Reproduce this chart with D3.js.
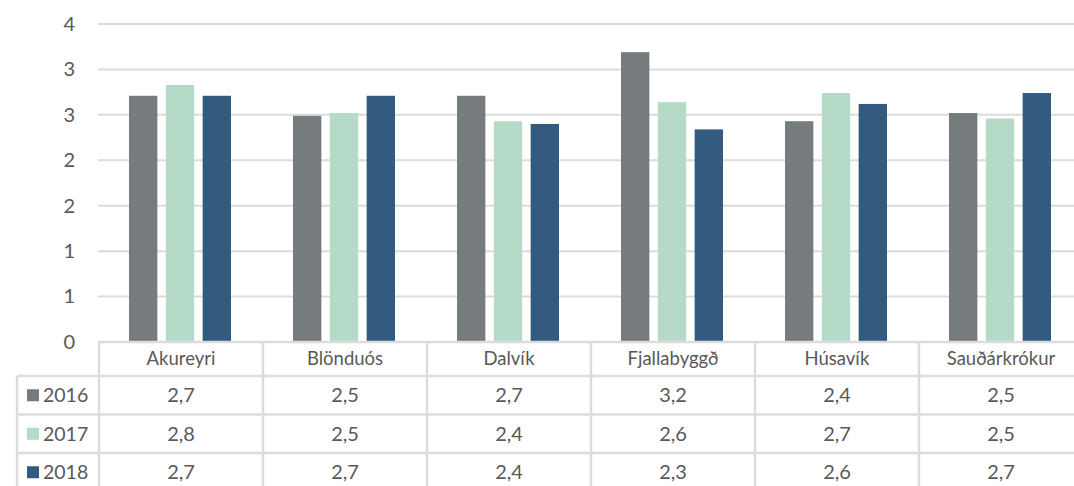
<!DOCTYPE html>
<html>
<head>
<meta charset="utf-8">
<script src="https://cdn.jsdelivr.net/npm/d3@7"></script>
<style>
  html, body { margin: 0; padding: 0; background: #fff; }
  svg { display: block; }
  text { font-family: Lato, "Open Sans", sans-serif; fill: #595959; }
</style>
</head>
<body>
<svg id="chart" width="1074" height="486"></svg>
<script>
// ---- data ----
const categories = ["Akureyri", "Blönduós", "Dalvík", "Fjallabyggð", "Húsavík", "Sauðárkrókur"];
const seriesNames = ["2016", "2017", "2018"];
const values2016 = [2.71, 2.49, 2.71, 3.19, 2.43, 2.52];
const values2017 = [2.83, 2.52, 2.43, 2.64, 2.74, 2.46];
const values2018 = [2.71, 2.71, 2.40, 2.34, 2.62, 2.74];
const tickValues = [0, 0.5, 1, 1.5, 2, 2.5, 3, 3.5];
const tickLabels = ["0", "1", "1", "2", "2", "3", "3", "4"];
const colors = ["#767b7e", "#b5dac8", "#335a7f"];

const seriesValues = [values2016, values2017, values2018];

// ---- layout ----
const svg = d3.select("#chart");
const plotLeft = 99, plotRight = 1083, plotTop = 24, plotBottom = 342;
const legendLeft = 17;
const headerBottom = 376, rowH = 38.5;
const gridColor = "#dcdcdc";

const x = d3.scaleBand().domain(categories).range([plotLeft, plotRight]);
const xs = d3.scaleBand().domain(seriesNames).range([30, 132]).paddingInner(0.23);
const y = d3.scaleLinear().domain([0, 3.5]).range([plotBottom, plotTop]);

// gridlines
svg.append("g").selectAll("line").data(tickValues.slice(1)).join("line")
  .attr("x1", plotLeft - 1).attr("x2", 1074)
  .attr("y1", d => y(d)).attr("y2", d => y(d))
  .attr("stroke", gridColor).attr("stroke-width", 2);

// y axis
const yAxis = d3.axisLeft(y).tickValues(tickValues)
  .tickFormat((d, i) => tickLabels[i]).tickSize(0).tickPadding(0);
const yg = svg.append("g").attr("transform", "translate(75,0)").call(yAxis);
yg.select(".domain").remove();
yg.selectAll("text").attr("font-size", 20).attr("fill", "#595959")
  .style("font-family", "Lato, 'Open Sans', sans-serif");

// bars
const groups = svg.append("g").selectAll("g").data(categories).join("g")
  .attr("transform", d => `translate(${x(d)},0)`);
groups.selectAll("rect").data((c, ci) => seriesNames.map((s, si) => ({ s, si, v: seriesValues[si][ci] })))
  .join("rect")
  .attr("x", d => xs(d.s)).attr("width", xs.bandwidth())
  .attr("y", d => y(d.v)).attr("height", d => y(0) - y(d.v))
  .attr("fill", d => colors[d.si]);

// ---- data table ----
const tbl = svg.append("g");
const rowTops = seriesNames.map((s, i) => headerBottom + i * rowH);
// horizontal lines
tbl.append("line").attr("x1", plotLeft - 1).attr("x2", 1074)
  .attr("y1", plotBottom).attr("y2", plotBottom)
  .attr("stroke", gridColor).attr("stroke-width", 2.5);
tbl.selectAll("line.h").data(rowTops.concat([headerBottom + 3 * rowH])).join("line")
  .attr("class", "h")
  .attr("x1", legendLeft).attr("x2", 1074)
  .attr("y1", d => d).attr("y2", d => d)
  .attr("stroke", gridColor).attr("stroke-width", 2.5);
// vertical lines
tbl.selectAll("line.v").data(categories.map(c => x(c)).concat([plotRight])).join("line")
  .attr("class", "v")
  .attr("x1", d => d).attr("x2", d => d)
  .attr("y1", plotBottom).attr("y2", 486)
  .attr("stroke", gridColor).attr("stroke-width", 2.5);
tbl.append("line").attr("x1", legendLeft).attr("x2", legendLeft)
  .attr("y1", headerBottom).attr("y2", 486)
  .attr("stroke", gridColor).attr("stroke-width", 2.5);

// header labels
tbl.selectAll("text.cat").data(categories).join("text")
  .attr("class", "cat")
  .attr("x", d => x(d) + x.bandwidth() / 2)
  .attr("y", (plotBottom + headerBottom) / 2)
  .attr("dy", "0.35em").attr("text-anchor", "middle")
  .attr("font-size", 18.5).text(d => d);

// legend cells
const fmt = v => d3.format(".1f")(v).replace(".", ",");
seriesNames.forEach((s, si) => {
  const cy = rowTops[si] + rowH / 2;
  tbl.append("rect").attr("x", 27).attr("y", cy - 6).attr("width", 12).attr("height", 12)
    .attr("fill", colors[si]);
  tbl.append("text").attr("x", 43).attr("y", cy).attr("dy", "0.35em")
    .attr("font-size", 19.5).text(s);
  tbl.selectAll(null).data(categories).join("text")
    .attr("x", d => x(d) + x.bandwidth() / 2).attr("y", cy).attr("dy", "0.35em")
    .attr("text-anchor", "middle").attr("font-size", 20)
    .text((d, ci) => fmt(seriesValues[si][ci]));
});
</script>
</body>
</html>
